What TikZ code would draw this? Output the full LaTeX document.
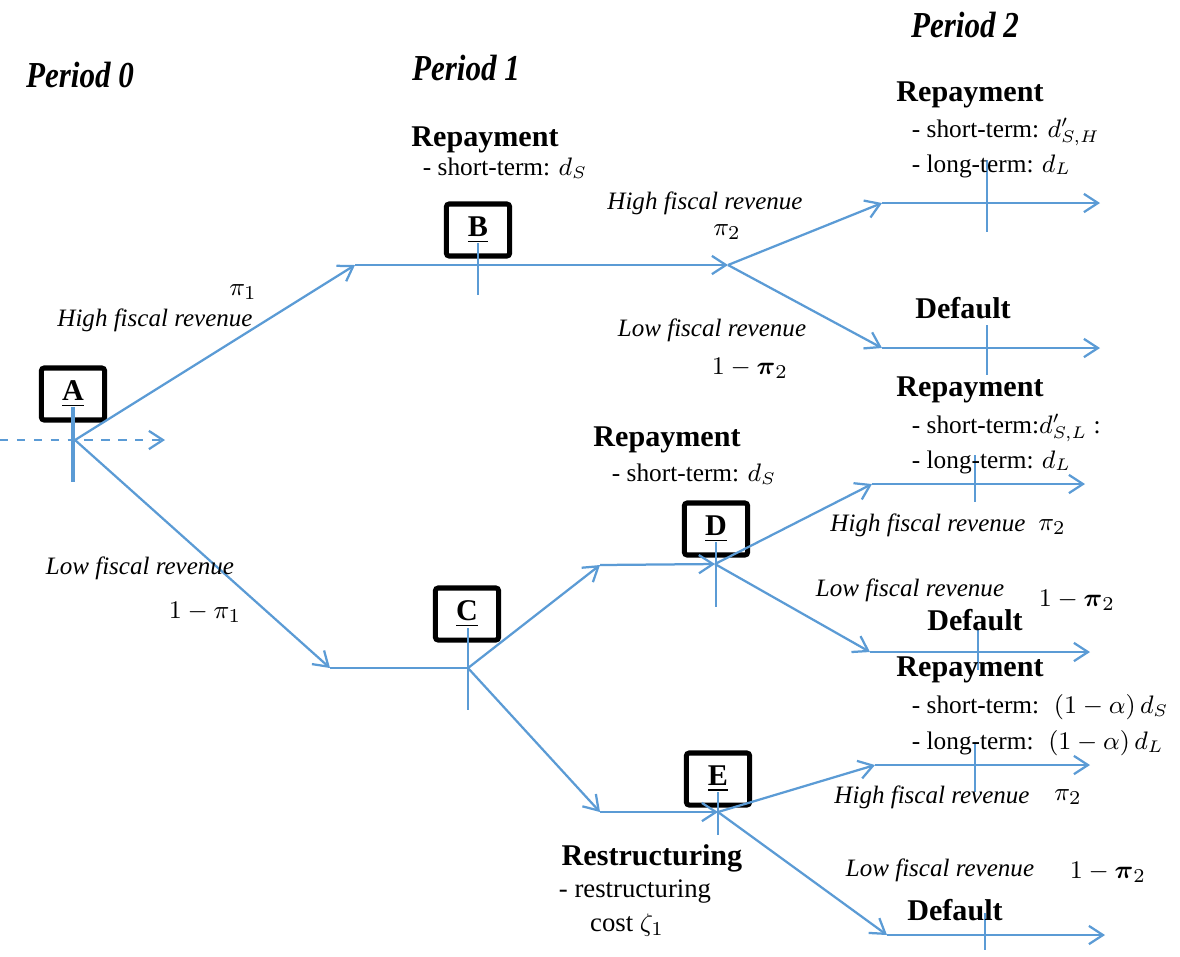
\documentclass[tikz,border=0pt]{standalone}
\usepackage{amsmath,amssymb}
\usepackage{fontspec}
\setmainfont{Liberation Serif}
\usetikzlibrary{arrows.meta, positioning}
\definecolor{Flow}{HTML}{5B9BD5}

\begin{document}
\begin{tikzpicture}[
    x=0.0125cm, y=-0.0125cm,
    flow/.style={draw=Flow, line width=0.8pt, -{Straight Barb[length=5pt, width=6.5pt]}},
    tick/.style={draw=Flow, line width=0.8pt},
    state/.style={draw, line width=1.8pt, rounded corners=1pt, minimum width=0.79cm,
                  minimum height=0.65cm, font=\fontsize{10.7}{12}\selectfont\bfseries},
    period/.style={font=\fontsize{13}{14}\selectfont\bfseries\itshape, xscale=0.85},
    head/.style={font=\fontsize{10.7}{12}\selectfont\bfseries},
    body/.style={font=\fontsize{9}{11}\selectfont, anchor=west},
    event/.style={font=\fontsize{8.9}{10}\selectfont\itshape},
    prob/.style={font=\fontsize{9.5}{11}\selectfont}
]
    \useasboundingbox (0,0) rectangle (1180,956);

    % Period headers
    \node[period] (per0) at (80,75) {Period 0};
    \node[period] (per1) at (466,68) {Period 1};
    \node[period] (per2) at (965,25) {Period 2};

    % State boxes
    \node[state] (boxA) at (73,394) {\underline{A}};
    \node[state] (boxB) at (478,230) {\underline{B}};
    \node[state] (boxC) at (467,614) {\underline{C}};
    \node[state] (boxD) at (716,529) {\underline{D}};
    \node[state] (boxE) at (718,779) {\underline{E}};

    % Branch points
    \coordinate (a0) at (0,440);
    \coordinate (adash) at (165,440);
    \coordinate (a) at (75,440);
    \coordinate (up1) at (355,265);
    \coordinate (b) at (728,265);
    \coordinate (bh) at (882,203);
    \coordinate (bhe) at (1100,203);
    \coordinate (bl) at (882,348);
    \coordinate (ble) at (1100,348);
    \coordinate (lo1) at (330,668);
    \coordinate (c) at (468,668);
    \coordinate (cu) at (600,565);
    \coordinate (d) at (715,564);
    \coordinate (dh) at (872,484);
    \coordinate (dhe) at (1085,484);
    \coordinate (dl) at (870,652);
    \coordinate (dle) at (1090,652);
    \coordinate (cd) at (600,812);
    \coordinate (e) at (718,812);
    \coordinate (eh) at (875,765);
    \coordinate (ehe) at (1090,765);
    \coordinate (el) at (887,935);
    \coordinate (ele) at (1105,935);

    % Period 0 -> 1
    \draw[flow, dashed] (a0) -- (adash);
    \draw[draw=Flow, line width=1.6pt] (73,407) -- (73,482);
    \draw[flow] (a) -- (up1);
    \draw[flow] (up1) -- (b);
    \draw[flow] (a) -- (lo1);
    \draw[tick] (lo1) -- (c);
    \draw[tick] (478,243) -- (478,295);
    \draw[tick] (468,628) -- (468,710);

    % upper node B
    \draw[flow] (b) -- (bh);
    \draw[flow] (bh) -- (bhe);
    \draw[flow] (b) -- (bl);
    \draw[flow] (bl) -- (ble);
    \draw[tick] (987,160) -- (987,232);
    \draw[tick] (987,325) -- (987,375);

    % node C
    \draw[flow] (c) -- (cu);
    \draw[flow] (cu) -- (d);
    \draw[flow] (c) -- (cd);
    \draw[flow] (cd) -- (e);
    \draw[tick] (716,542) -- (716,607);
    \draw[tick] (718,792) -- (718,835);

    % node D
    \draw[flow] (d) -- (dh);
    \draw[flow] (dh) -- (dhe);
    \draw[flow] (d) -- (dl);
    \draw[flow] (dl) -- (dle);
    \draw[tick] (975,455) -- (975,502);
    \draw[tick] (978,630) -- (978,670);

    % node E
    \draw[flow] (e) -- (eh);
    \draw[flow] (eh) -- (ehe);
    \draw[flow] (e) -- (el);
    \draw[flow] (el) -- (ele);
    \draw[tick] (975,743) -- (975,792);
    \draw[tick] (985,913) -- (985,950);

    % Period 0 labels
    \node[prob] (p1) at (243,292) {$\pi_1$};
    \node[event] (hi1) at (155,320) {High fiscal revenue};
    \node[event] (lo1t) at (140,568) {Low fiscal revenue};
    \node[prob] (q1) at (205,612) {$1-\pi_1$};

    % B
    \node[head] (repB) at (485,140) {Repayment};
    \node[body] (stB) at (413,168) {- short-term: $d_S$};
    \node[event] (hiB) at (705,203) {High fiscal revenue};
    \node[prob] (pB) at (727,232) {$\pi_2$};
    \node[event] (loB) at (712,330) {Low fiscal revenue};
    \node[prob] (qB) at (750,368) {$1-\boldsymbol{\pi}_2$};
    \node[head] (repBH) at (970,95) {Repayment};
    \node[body] (stBH) at (902,132) {- short-term: $d'_{S,H}$};
    \node[body] (ltBH) at (902,166) {- long-term: $d_L$};
    \node[head] (defB) at (963,308) {Default};

    % D
    \node[head] (repD) at (667,440) {Repayment};
    \node[body] (stD) at (602,474) {- short-term: $d_S$};
    \node[head] (repDH) at (970,390) {Repayment};
    \node[body] (stDH) at (902,428) {- short-term:$d'_{S,L}$ :};
    \node[body] (ltDH) at (902,462) {- long-term: $d_L$};
    \node[event] (hiD) at (928,525) {High fiscal revenue};
    \node[prob] (pD) at (1052,527) {$\pi_2$};
    \node[event] (loD) at (910,590) {Low fiscal revenue};
    \node[prob] (qD) at (1077,600) {$1-\boldsymbol{\pi}_2$};
    \node[head] (defD) at (975,620) {Default};

    % E
    \node[head] (repEH) at (970,670) {Repayment};
    \node[body] (stEH) at (902,707) {- short-term: \ $(1-\alpha)\,d_S$};
    \node[body] (ltEH) at (902,743) {- long-term: \ $(1-\alpha)\,d_L$};
    \node[event] (hiE) at (932,797) {High fiscal revenue};
    \node[prob] (pE) at (1068,797) {$\pi_2$};
    \node[event] (loE) at (940,870) {Low fiscal revenue};
    \node[prob] (qE) at (1108,872) {$1-\boldsymbol{\pi}_2$};
    \node[head] (defE) at (955,910) {Default};
    \node[head] (resE) at (652,858) {Restructuring};
    \node[font=\fontsize{9.5}{11}\selectfont] (rcE) at (635,892) {- restructuring};
    \node[font=\fontsize{9.5}{11}\selectfont] (ccE) at (627,925) {cost $\zeta_1$};
\end{tikzpicture}
\end{document}
